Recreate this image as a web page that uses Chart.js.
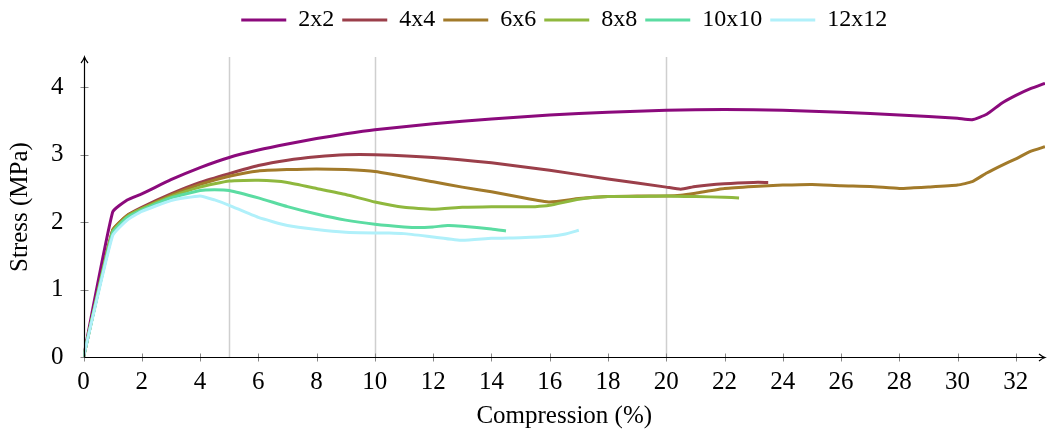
<!DOCTYPE html>
<html>
<head>
<meta charset="utf-8">
<script src="https://cdn.jsdelivr.net/npm/chart.js@4.4.1/dist/chart.umd.min.js"></script>
<style>
  html, body { margin: 0; padding: 0; background: #fff; }
  #wrap { width: 1047px; height: 436px; }
</style>
</head>
<body>
<div id="wrap"><canvas id="chart"></canvas></div>
<script>
// compression (%) / stress (MPa)
const strain2 = [0, 1, 1.5, 2, 3, 4, 5, 6, 7, 8, 9, 10, 12, 14, 16, 18, 20, 22, 24, 26, 28, 30, 30.5, 31, 31.5, 32, 32.5, 33];
const stress2 = [0, 2.15, 2.33, 2.42, 2.63, 2.81, 2.96, 3.07, 3.16, 3.24, 3.31, 3.37, 3.46, 3.53, 3.59, 3.63, 3.66, 3.67, 3.66, 3.63, 3.59, 3.54, 3.52, 3.60, 3.76, 3.88, 3.98, 4.06];

const strain4 = [0, 1, 1.5, 2, 3, 4, 5, 6, 7, 8, 9, 10, 12, 14, 16, 18, 20, 20.5, 21, 22, 23, 23.5];
const stress4 = [0, 1.88, 2.1, 2.22, 2.42, 2.59, 2.72, 2.84, 2.92, 2.97, 3.0, 3.0, 2.96, 2.88, 2.77, 2.64, 2.52, 2.49, 2.53, 2.57, 2.59, 2.59];

const strain6 = [0, 1, 1.5, 2, 3, 4, 5, 6, 7, 8, 9, 10, 12, 13, 14, 15, 16, 17, 18, 19, 20, 20.5, 21, 22, 23, 24, 25, 26, 27, 28, 28.5, 29, 30, 30.5, 31, 31.5, 32, 32.5, 33];
const stress6 = [0, 1.88, 2.1, 2.2, 2.4, 2.56, 2.68, 2.76, 2.78, 2.79, 2.78, 2.75, 2.6, 2.52, 2.45, 2.37, 2.30, 2.35, 2.38, 2.39, 2.39, 2.40, 2.43, 2.5, 2.53, 2.55, 2.56, 2.54, 2.53, 2.50, 2.51, 2.52, 2.55, 2.60, 2.73, 2.84, 2.94, 3.05, 3.12];

const strain8 = [0, 1, 1.5, 2, 3, 4, 5, 6, 7, 8, 9, 10, 11, 12, 13, 14, 15, 15.5, 16, 17, 18, 19, 20, 21, 22, 22.5];
const stress8 = [0, 1.86, 2.08, 2.2, 2.38, 2.52, 2.61, 2.62, 2.59, 2.5, 2.41, 2.30, 2.22, 2.19, 2.22, 2.23, 2.23, 2.23, 2.25, 2.34, 2.38, 2.38, 2.39, 2.38, 2.37, 2.36];

const strain10 = [0, 1, 1.5, 2, 3, 4, 4.5, 5, 6, 7, 8, 9, 10, 11, 11.5, 12, 12.5, 13, 14, 14.5];
const stress10 = [0, 1.84, 2.07, 2.18, 2.36, 2.47, 2.48, 2.47, 2.36, 2.23, 2.12, 2.03, 1.97, 1.93, 1.92, 1.93, 1.95, 1.94, 1.90, 1.87];

const strain12 = [0, 1, 1.5, 2, 3, 4, 4.5, 5, 6, 7, 8, 9, 10, 10.5, 11, 12, 13, 14, 15, 16, 16.5, 17];
const stress12 = [0, 1.8, 2.03, 2.16, 2.32, 2.39, 2.33, 2.25, 2.07, 1.95, 1.89, 1.85, 1.84, 1.84, 1.83, 1.78, 1.73, 1.76, 1.77, 1.79, 1.82, 1.88];

const seriesNames = ['2x2', '4x4', '6x6', '8x8', '10x10', '12x12'];
const seriesColors = ['#8b0a7c', '#9b3f4a', '#a27a2a', '#8fb83e', '#5bdca2', '#b0f0fa'];
const strains = [strain2, strain4, strain6, strain8, strain10, strain12];
const stresses = [stress2, stress4, stress6, stress8, stress10, stress12];

const xTickValues = [0, 2, 4, 6, 8, 10, 12, 14, 16, 18, 20, 22, 24, 26, 28, 30, 32];
const yTickValues = [0, 1, 2, 3, 4];
const refLines = [5, 10, 20];

const serif = "'Liberation Serif', 'DejaVu Serif', serif";

// extra gap under the legend
const legendGap = {
  id: 'legendGap',
  beforeInit(chart) {
    const fit = chart.legend.fit;
    chart.legend.fit = function () {
      fit.bind(chart.legend)();
      this.height += 15;
    };
  }
};

// axis lines with arrows, tick marks across the axes, vertical reference lines
const axesPlugin = {
  id: 'axesPlugin',
  beforeDatasetsDraw(chart) {
    const { ctx, chartArea: a, scales: { x, y } } = chart;
    ctx.save();
    ctx.strokeStyle = '#cfcfcf';
    ctx.lineWidth = 1.5;
    refLines.forEach(v => {
      const px = Math.round(x.getPixelForValue(v)) + 0.5;
      ctx.beginPath();
      ctx.moveTo(px, a.top);
      ctx.lineTo(px, a.bottom);
      ctx.stroke();
    });
    ctx.restore();
  },
  afterDatasetsDraw(chart) {
    const { ctx, chartArea: a, scales: { x, y } } = chart;
    const x0 = Math.round(x.getPixelForValue(0)) + 0.5;
    const y0 = Math.round(y.getPixelForValue(0)) + 0.5;
    ctx.save();
    ctx.strokeStyle = '#888';
    ctx.lineWidth = 1;
    xTickValues.forEach(v => {
      const px = Math.round(x.getPixelForValue(v)) + 0.5;
      ctx.beginPath();
      ctx.moveTo(px, y0 - 4);
      ctx.lineTo(px, y0 + 4);
      ctx.stroke();
    });
    yTickValues.forEach(v => {
      const py = Math.round(y.getPixelForValue(v)) + 0.5;
      ctx.beginPath();
      ctx.moveTo(x0 - 4, py);
      ctx.lineTo(x0 + 4, py);
      ctx.stroke();
    });
    ctx.strokeStyle = '#000';
    ctx.lineWidth = 1.2;
    ctx.beginPath();
    ctx.moveTo(x0, y0);
    ctx.lineTo(a.right - 1, y0);
    ctx.moveTo(x0, y0);
    ctx.lineTo(x0, a.top + 1);
    ctx.stroke();
    // arrow heads
    ctx.beginPath();
    ctx.moveTo(a.right - 6, y0 - 3.5);
    ctx.quadraticCurveTo(a.right - 3, y0 - 1, a.right, y0);
    ctx.quadraticCurveTo(a.right - 3, y0 + 1, a.right - 6, y0 + 3.5);
    ctx.moveTo(x0 - 3.5, a.top + 6);
    ctx.quadraticCurveTo(x0 - 1, a.top + 3, x0, a.top);
    ctx.quadraticCurveTo(x0 + 1, a.top + 3, x0 + 3.5, a.top + 6);
    ctx.stroke();
    ctx.restore();
  }
};

new Chart(document.getElementById('chart'), {
  type: 'line',
  data: {
    datasets: seriesNames.map((name, i) => ({
      label: name,
      data: strains[i].map((s, k) => ({ x: s, y: stresses[i][k] })),
      borderColor: seriesColors[i],
      backgroundColor: seriesColors[i],
      borderWidth: 3,
      pointRadius: 0,
      fill: false,
      tension: 0.15,
      borderJoinStyle: 'round',
      order: seriesNames.length - i
    }))
  },
  options: {
    responsive: true,
    maintainAspectRatio: false,
    animation: false,
    layout: { padding: { top: 0, right: 2, left: 5, bottom: 5 } },
    plugins: {
      tooltip: { enabled: false },
      legend: {
        position: 'top',
        fullSize: false,
        labels: {
          boxWidth: 45,
          boxHeight: 3,
          padding: 8,
          color: '#000',
          font: { family: serif, size: 24 },
          sort: (a, b) => a.datasetIndex - b.datasetIndex,
          generateLabels(chart) {
            const items = Chart.defaults.plugins.legend.labels.generateLabels(chart);
            items.forEach(it => { it.lineWidth = 0; });
            return items;
          }
        }
      }
    },
    scales: {
      x: {
        type: 'linear',
        min: 0,
        max: 33,
        grid: { display: false },
        border: { display: false },
        ticks: {
          stepSize: 2,
          includeBounds: false,
          padding: 2,
          color: '#000',
          maxRotation: 0,
          font: { family: serif, size: 25 }
        },
        title: {
          display: true,
          text: 'Compression (%)',
          color: '#000',
          font: { family: serif, size: 25 },
          padding: { top: 2, bottom: 0 }
        }
      },
      y: {
        type: 'linear',
        min: 0,
        max: 4.45,
        grid: { display: false },
        border: { display: false },
        ticks: {
          stepSize: 1,
          includeBounds: false,
          padding: 12,
          color: '#000',
          font: { family: serif, size: 25 }
        },
        title: {
          display: true,
          text: 'Stress (MPa)',
          color: '#000',
          font: { family: serif, size: 25 },
          padding: { top: 0, bottom: 4 }
        }
      }
    }
  },
  plugins: [axesPlugin, legendGap]
});
</script>
</body>
</html>
